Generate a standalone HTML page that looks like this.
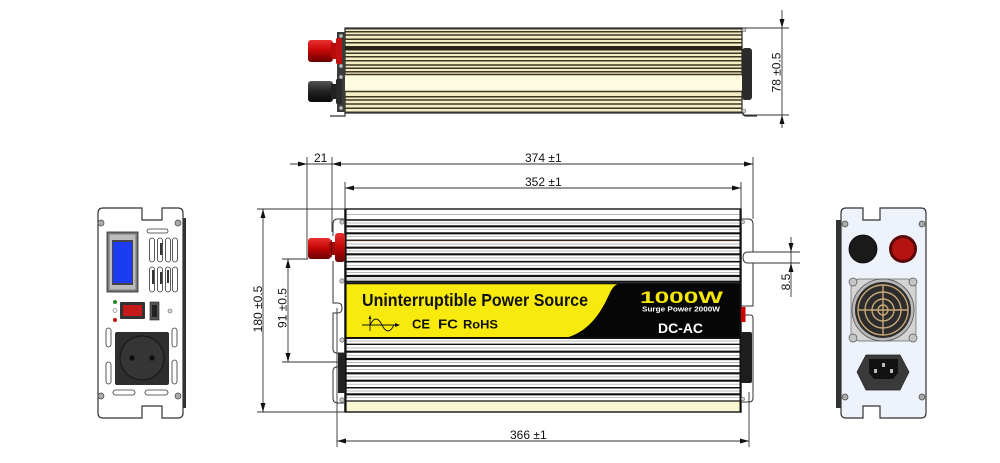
<!DOCTYPE html>
<html><head><meta charset="utf-8"><style>
html,body{margin:0;padding:0;background:#fff;}
svg{display:block;}
text{font-family:"Liberation Sans",Arial,sans-serif;}
</style></head><body>
<svg width="1000" height="463" viewBox="0 0 1000 463" xmlns="http://www.w3.org/2000/svg">
<defs>
<linearGradient id="red" x1="0" y1="0" x2="0" y2="1"><stop offset="0" stop-color="#e83030"/><stop offset="0.45" stop-color="#c80808"/><stop offset="1" stop-color="#6a0000"/></linearGradient>
<linearGradient id="blk" x1="0" y1="0" x2="0" y2="1"><stop offset="0" stop-color="#555"/><stop offset="0.5" stop-color="#222"/><stop offset="1" stop-color="#0a0a0a"/></linearGradient>
</defs>

<!-- ================= TOP VIEW ================= -->
<rect x="345" y="28" width="397" height="85" fill="#f3eec4" stroke="#222" stroke-width="1.2"/>
<rect x="345" y="74" width="397" height="17" fill="#fdfbe0"/>
<g stroke="#3e3522" stroke-width="1.5">
<line x1="345" y1="31.7" x2="742" y2="31.7"/>
<line x1="345" y1="35" x2="742" y2="35"/>
<line x1="345" y1="39.3" x2="742" y2="39.3"/>
<line x1="345" y1="42.7" x2="742" y2="42.7"/>
<line x1="345" y1="53.3" x2="742" y2="53.3"/>
<line x1="345" y1="56.7" x2="742" y2="56.7"/>
<line x1="345" y1="60.7" x2="742" y2="60.7"/>
<line x1="345" y1="65" x2="742" y2="65"/>
<line x1="345" y1="68.3" x2="742" y2="68.3"/>
<line x1="345" y1="71.7" x2="742" y2="71.7"/>
<line x1="345" y1="74.5" x2="742" y2="74.5"/>
<line x1="345" y1="91.5" x2="742" y2="91.5"/>
<line x1="345" y1="96.7" x2="742" y2="96.7"/>
<line x1="345" y1="100" x2="742" y2="100"/>
<line x1="345" y1="104" x2="742" y2="104"/>
<line x1="345" y1="108.3" x2="742" y2="108.3"/>
</g>
<rect x="345" y="46" width="397" height="4.5" fill="#2a2416"/>
<rect x="345" y="28" width="397" height="1.5" fill="#333"/>
<rect x="345" y="111.5" width="397" height="1.5" fill="#333"/>
<!-- left bracket top view -->
<rect x="337" y="32" width="8" height="80" fill="#3a3a3a"/>
<g fill="#bbb" stroke="#555" stroke-width="0.6">
<circle cx="341" cy="36" r="2"/><circle cx="341" cy="66" r="2"/><circle cx="341" cy="77" r="2"/><circle cx="341" cy="108" r="2"/>
</g>
<!-- red terminal top -->
<rect x="308" y="40" width="25" height="22" rx="3" fill="url(#red)"/>
<rect x="331" y="43" width="9" height="16" fill="#b80a0a"/>
<rect x="336" y="38" width="6" height="26" rx="1.5" fill="#c01010"/>
<!-- black terminal top -->
<rect x="308" y="81" width="25" height="21" rx="3" fill="url(#blk)"/>
<rect x="331" y="84" width="9" height="15" fill="#222"/>
<rect x="336" y="79" width="6" height="25" rx="1.5" fill="#2a2a2a"/>
<!-- right bump top -->
<rect x="742" y="48" width="10" height="52" rx="3" fill="#2b2b2b"/>
<circle cx="744" cy="30" r="2" fill="#ccc" stroke="#666" stroke-width="0.5"/>
<circle cx="744" cy="111" r="2" fill="#ccc" stroke="#666" stroke-width="0.5"/>
<!-- feet -->
<path d="M330,116 L345,116 L345,112" fill="none" stroke="#333" stroke-width="1.2"/>
<path d="M742,112 L745,116 L757,116" fill="none" stroke="#333" stroke-width="1.2"/>

<!-- 78 dimension -->
<g stroke="#333" stroke-width="0.9">
<line x1="742" y1="28" x2="789" y2="28"/>
<line x1="742" y1="115" x2="789" y2="115"/>
<line x1="782" y1="10" x2="782" y2="128"/>
</g>
<polygon points="782,28 779.5,19 784.5,19" fill="#111"/>
<polygon points="782,115 779.5,124 784.5,124" fill="#111"/>
<text transform="translate(780.5,72.5) rotate(-90)" text-anchor="middle" font-size="12" fill="#111">78 ±0.5</text>

<!-- ================= FRONT VIEW ================= -->
<rect x="345" y="209" width="396" height="203" fill="#fff"/>
<rect x="345" y="401" width="396" height="11" fill="#fbf6d2"/>
<g stroke="#a0a0a0" stroke-width="0.7">
<line x1="345" y1="214.5" x2="741" y2="214.5"/>
<line x1="345" y1="223" x2="741" y2="223"/>
<line x1="345" y1="229.7" x2="741" y2="229.7"/>
<line x1="345" y1="236.7" x2="741" y2="236.7"/>
<line x1="345" y1="244" x2="741" y2="244"/>
<line x1="345" y1="251" x2="741" y2="251"/>
<line x1="345" y1="258" x2="741" y2="258"/>
<line x1="345" y1="265.3" x2="741" y2="265.3"/>
<line x1="345" y1="272.5" x2="741" y2="272.5"/>
<line x1="345" y1="279" x2="741" y2="279"/>
<line x1="345" y1="341" x2="741" y2="341"/>
<line x1="345" y1="348" x2="741" y2="348"/>
<line x1="345" y1="355.3" x2="741" y2="355.3"/>
<line x1="345" y1="362.5" x2="741" y2="362.5"/>
<line x1="345" y1="369.7" x2="741" y2="369.7"/>
<line x1="345" y1="377" x2="741" y2="377"/>
<line x1="345" y1="384.2" x2="741" y2="384.2"/>
<line x1="345" y1="391" x2="741" y2="391"/>
<line x1="345" y1="397.7" x2="741" y2="397.7"/>
</g>
<g stroke="#111" stroke-width="2.2">
<line x1="345" y1="220" x2="741" y2="220" stroke-width="1.4"/>
<line x1="345" y1="226.3" x2="741" y2="226.3"/>
<line x1="345" y1="233.3" x2="741" y2="233.3"/>
<line x1="345" y1="240.3" x2="741" y2="240.3" stroke="#3a2a1a" stroke-width="1.6"/>
<line x1="345" y1="247.7" x2="741" y2="247.7"/>
<line x1="345" y1="254.3" x2="741" y2="254.3"/>
<line x1="345" y1="261.7" x2="741" y2="261.7" stroke-width="1.6"/>
<line x1="345" y1="269" x2="741" y2="269"/>
<line x1="345" y1="276" x2="741" y2="276"/>
<line x1="345" y1="281.7" x2="741" y2="281.7"/>
<line x1="345" y1="344.3" x2="741" y2="344.3" stroke-width="1.4"/>
<line x1="345" y1="351.7" x2="741" y2="351.7"/>
<line x1="345" y1="359" x2="741" y2="359"/>
<line x1="345" y1="366" x2="741" y2="366" stroke-width="1.5"/>
<line x1="345" y1="373.3" x2="741" y2="373.3"/>
<line x1="345" y1="380.7" x2="741" y2="380.7"/>
<line x1="345" y1="387.7" x2="741" y2="387.7" stroke-width="1.5"/>
<line x1="345" y1="394.3" x2="741" y2="394.3"/>
<line x1="345" y1="401" x2="741" y2="401" stroke-width="1.2"/>
</g>
<!-- label -->
<rect x="345" y="283.5" width="396" height="54.5" fill="#f7ea0c"/>
<path d="M621,283.5 C612,284 611,292 605,303 C597,318 588,328 576,334 C572,336 568,337.5 563,338 L741,338 L741,283.5 Z" fill="#060606"/>
<line x1="345" y1="283.5" x2="741" y2="283.5" stroke="#111" stroke-width="1.5"/>
<line x1="345" y1="338" x2="741" y2="338" stroke="#111" stroke-width="2"/>
<text x="362" y="306" font-size="17.5" font-weight="bold" fill="#111" textLength="226" lengthAdjust="spacingAndGlyphs">Uninterruptible Power Source</text>
<text x="640" y="303" font-size="17" font-weight="bold" fill="#f5e60a" textLength="83" lengthAdjust="spacingAndGlyphs">1000W</text>
<text x="642" y="311.5" font-size="7" font-weight="bold" fill="#fff" textLength="78" lengthAdjust="spacingAndGlyphs">Surge Power 2000W</text>
<text x="658" y="333" font-size="13.5" font-weight="bold" fill="#fff" textLength="45" lengthAdjust="spacingAndGlyphs">DC-AC</text>
<!-- sine icon -->
<g stroke="#111" stroke-width="0.9" fill="none">
<line x1="362" y1="325" x2="397" y2="325"/>
<line x1="370" y1="331" x2="370" y2="317"/>
<path d="M370,325 C374,317 378,317 382,325 C386,333 390,333 394,325"/>
</g>
<polygon points="400,325 395,323 395,327" fill="#111"/>
<polygon points="370,315 368.5,319 371.5,319" fill="#111"/>
<text x="412" y="328.5" font-size="12.5" font-weight="bold" fill="#111" textLength="18" lengthAdjust="spacingAndGlyphs">CE</text>
<text x="438" y="328.5" font-size="12.5" font-weight="bold" fill="#111" textLength="20" lengthAdjust="spacingAndGlyphs">FC</text>
<text x="463" y="328.5" font-size="12" font-weight="bold" fill="#111" textLength="35" lengthAdjust="spacingAndGlyphs">RoHS</text>
<!-- body outline -->
<rect x="345" y="209" width="396" height="203" fill="none" stroke="#111" stroke-width="1.4"/>
<line x1="345.5" y1="209" x2="345.5" y2="412" stroke="#111" stroke-width="2.2"/>
<line x1="740.5" y1="209" x2="740.5" y2="412" stroke="#111" stroke-width="2"/>

<!-- left bracket front -->
<g fill="none" stroke="#333" stroke-width="1">
<path d="M345,219 L338,219 Q333,219 333,224 L333,236"/>
<path d="M333,261 L333,303 L338,303 Q342,303 342,308 Q342,313 338,313 L333,313 L333,349 Q333,353 337,353 L345,353"/>
<path d="M338,367 L337,367 Q333,367 333,371 L333,398 Q333,403 338,403 L345,403"/>
</g>
<g fill="#c8c8c8" stroke="#555" stroke-width="0.6">
<circle cx="342" cy="222" r="2.2"/><circle cx="342" cy="281" r="2.2"/><circle cx="342" cy="340" r="2.2"/><circle cx="342" cy="400" r="2.2"/>
</g>
<rect x="338" y="353" width="7" height="40" fill="#222"/>
<!-- red terminal front -->
<rect x="308" y="238" width="23" height="21" rx="3" fill="url(#red)"/>
<rect x="329" y="242" width="7" height="13" fill="#a00808"/>
<rect x="335" y="233" width="10" height="29" rx="3" fill="url(#red)"/>
<line x1="331.5" y1="240" x2="331.5" y2="257" stroke="#5a0000" stroke-width="0.8"/>

<!-- right bracket front -->
<g fill="none" stroke="#333" stroke-width="1">
<path d="M741,219 L748,219 Q753,219 753,224 L753,252 L748,252 Q743,252 743,257.5 Q743,263 748,263 L753,263 L753,306 L741,306"/>
<path d="M745,315 L750,315 Q753,315 753,318 L753,398 Q753,402 749,402 L741,402"/>
</g>
<rect x="741" y="332" width="11" height="51" rx="2" fill="#1e1e1e"/>
<rect x="741" y="307" width="4.5" height="15" fill="#c00"/>
<circle cx="743" cy="222" r="1.8" fill="#ccc" stroke="#666" stroke-width="0.5"/>
<circle cx="743" cy="399" r="1.8" fill="#ccc" stroke="#666" stroke-width="0.5"/>

<!-- dimension lines front -->
<g stroke="#333" stroke-width="0.9" fill="none">
<line x1="290" y1="164" x2="753" y2="164"/>
<line x1="307" y1="157" x2="307" y2="259"/>
<line x1="332" y1="157" x2="332" y2="232"/>
<line x1="753" y1="157" x2="753" y2="219"/>
<line x1="345" y1="188" x2="741" y2="188"/>
<line x1="345" y1="182" x2="345" y2="209"/>
<line x1="741" y1="182" x2="741" y2="209"/>
<line x1="257" y1="209" x2="345" y2="209"/>
<line x1="257" y1="412" x2="345" y2="412"/>
<line x1="263" y1="209" x2="263" y2="412"/>
<line x1="282" y1="259" x2="308" y2="259"/>
<line x1="282" y1="362" x2="338" y2="362"/>
<line x1="288" y1="259" x2="288" y2="362"/>
<line x1="337" y1="308" x2="337" y2="447"/>
<line x1="749" y1="392" x2="749" y2="447"/>
<line x1="337" y1="441" x2="749" y2="441"/>
<line x1="753" y1="252" x2="800" y2="252"/>
<line x1="753" y1="263" x2="800" y2="263"/>
<line x1="791" y1="237" x2="791" y2="297"/>
</g>
<g fill="#111">
<polygon points="307,164 298,161.5 298,166.5"/>
<polygon points="332,164 341,161.5 341,166.5"/>
<polygon points="753,164 744,161.5 744,166.5"/>
<polygon points="345,188 354,185.5 354,190.5"/>
<polygon points="741,188 732,185.5 732,190.5"/>
<polygon points="263,209 260.5,218 265.5,218"/>
<polygon points="263,412 260.5,403 265.5,403"/>
<polygon points="288,259 285.5,268 290.5,268"/>
<polygon points="288,362 285.5,353 290.5,353"/>
<polygon points="337,441 346,438.5 346,443.5"/>
<polygon points="749,441 740,438.5 740,443.5"/>
<polygon points="791,252 788.5,243 793.5,243"/>
<polygon points="791,263 788.5,272 793.5,272"/>
</g>
<g font-size="12" fill="#111">
<text x="314" y="162">21</text>
<text x="525" y="162">374 ±1</text>
<text x="525" y="186">352 ±1</text>
<text x="510" y="439">366 ±1</text>
<text transform="translate(262,309) rotate(-90)" text-anchor="middle">180 ±0.5</text>
<text transform="translate(286.5,308) rotate(-90)" text-anchor="middle">91 ±0.5</text>
<text transform="translate(790,282) rotate(-90)" text-anchor="middle">8.5</text>
</g>

<!-- ================= LEFT SIDE PANEL ================= -->
<rect x="183" y="218" width="3" height="190" fill="#333"/>
<path d="M103,208 L142,208 L142,220 L162,220 L162,208 L178,208 Q183,208 183,213 L183,413 Q183,418 178,418 L162,418 L162,406 L142,406 L142,418 L103,418 Q98,418 98,413 L98,213 Q98,208 103,208 Z" fill="#fff" stroke="#333" stroke-width="1.2"/>
<rect x="107" y="232" width="31" height="60" fill="#7a7a7a" stroke="#222" stroke-width="0.8"/>
<rect x="109.5" y="234.5" width="26" height="55" fill="#bcbcbc"/>
<rect x="112" y="240" width="21" height="45" fill="#444"/>
<rect x="113" y="242" width="19" height="41" fill="#1c3cf2"/>
<g fill="#fff" stroke="#333" stroke-width="0.8">
<rect x="147" y="229" width="21" height="4" rx="2"/>
<rect x="149.5" y="238" width="5" height="24" rx="2.5"/>
<rect x="157.5" y="238" width="5" height="24" rx="2.5"/>
<rect x="165.5" y="238" width="5" height="24" rx="2.5"/>
<rect x="172.5" y="238" width="5" height="24" rx="2.5"/>
<rect x="149.5" y="267" width="5" height="25" rx="2.5"/>
<rect x="157.5" y="267" width="5" height="25" rx="2.5"/>
<rect x="165.5" y="267" width="5" height="25" rx="2.5"/>
<rect x="172.5" y="267" width="5" height="25" rx="2.5"/>
<rect x="106" y="328" width="5" height="19" rx="2.5"/>
<rect x="106" y="362" width="5" height="22" rx="2.5"/>
<rect x="172" y="328" width="5" height="19" rx="2.5"/>
<rect x="172" y="360" width="5" height="24" rx="2.5"/>
<rect x="113" y="390" width="22" height="5" rx="2.5"/>
<rect x="145" y="390" width="23" height="5" rx="2.5"/>
</g>
<g fill="#333">
<rect x="160" y="243" width="2" height="12"/><rect x="152" y="270" width="2" height="14"/><rect x="160" y="272" width="2" height="12"/><rect x="167" y="270" width="2" height="13"/>
</g>
<circle cx="115" cy="302" r="2" fill="#2a8a2a"/>
<circle cx="115" cy="310.5" r="2" fill="#fff" stroke="#666" stroke-width="0.6"/>
<circle cx="115" cy="320" r="2" fill="#c01010"/>
<rect x="120" y="302" width="25" height="17" rx="1" fill="#333"/>
<rect x="123" y="305" width="19" height="11" fill="#c41a1a"/>
<rect x="150" y="302" width="9" height="18" fill="#555" stroke="#222" stroke-width="0.6"/>
<rect x="152" y="305" width="5" height="12" fill="#222"/>
<circle cx="170" cy="311" r="2" fill="#ddd" stroke="#555" stroke-width="0.6"/>
<rect x="115" y="332" width="54" height="53" rx="2" fill="#2e2e2e"/>
<circle cx="142" cy="358" r="22" fill="#353535" stroke="#151515" stroke-width="1"/>
<circle cx="132" cy="358" r="2.6" fill="#0e0e0e"/>
<circle cx="152" cy="358" r="2.6" fill="#0e0e0e"/>
<g fill="#aaa" stroke="#444" stroke-width="0.7">
<circle cx="101" cy="223" r="3"/><circle cx="178" cy="223" r="3"/><circle cx="101" cy="396" r="3"/><circle cx="178" cy="396" r="3"/>
</g>

<!-- ================= RIGHT SIDE PANEL ================= -->
<rect x="836" y="220" width="5" height="188" fill="#333"/>
<path d="M846,208 L863,208 L863,220 L880,220 L880,208 L921,208 Q926,208 926,213 L926,413 Q926,418 921,418 L880,418 L880,406 L863,406 L863,418 L846,418 Q841,418 841,413 L841,213 Q841,208 846,208 Z" fill="#eef2fb" stroke="#333" stroke-width="1.2"/>
<circle cx="863" cy="249" r="14" fill="#1a1a1a" stroke="#000" stroke-width="0.8"/>
<circle cx="903" cy="249" r="14" fill="#5a0505"/>
<circle cx="903" cy="249" r="11" fill="#b51212"/>
<!-- fan -->
<rect x="851" y="279" width="65" height="62" rx="8" fill="#d4d4d4" stroke="#666" stroke-width="0.7"/>
<circle cx="883" cy="310" r="31" fill="#b9b9b9" stroke="#555" stroke-width="0.8"/>
<circle cx="883" cy="310" r="28" fill="#2c2c2c"/>
<g fill="none" stroke="#c8a878" stroke-width="1.4">
<circle cx="883" cy="310" r="25"/>
<circle cx="883" cy="310" r="18"/>
<circle cx="883" cy="310" r="11"/>
<circle cx="883" cy="310" r="5"/>
<line x1="883" y1="285" x2="883" y2="335"/>
<line x1="858" y1="310" x2="908" y2="310"/>
</g>
<g fill="#c4c4c4" stroke="#555" stroke-width="0.7">
<circle cx="853" cy="282" r="4"/><circle cx="913" cy="282" r="4"/><circle cx="853" cy="338" r="4"/><circle cx="913" cy="338" r="4"/>
</g>
<!-- IEC socket -->
<polygon points="857,372 866,355 900,355 909,372 900,390 866,390" fill="#3a3a3a" stroke="#222" stroke-width="0.7"/>
<path d="M869,359 L898,359 L898,373 L893,379 L874,379 L869,373 Z" fill="#121212"/>
<rect x="874" y="369" width="3" height="4" fill="#bbb"/>
<rect x="890" y="369" width="3" height="4" fill="#bbb"/>
<rect x="882" y="363" width="3" height="4" fill="#bbb"/>
<g fill="#aaa" stroke="#444" stroke-width="0.7">
<circle cx="845" cy="224" r="3"/><circle cx="922" cy="224" r="3"/><circle cx="845" cy="397" r="3"/><circle cx="922" cy="397" r="3"/>
</g>
</svg>
</body></html>
